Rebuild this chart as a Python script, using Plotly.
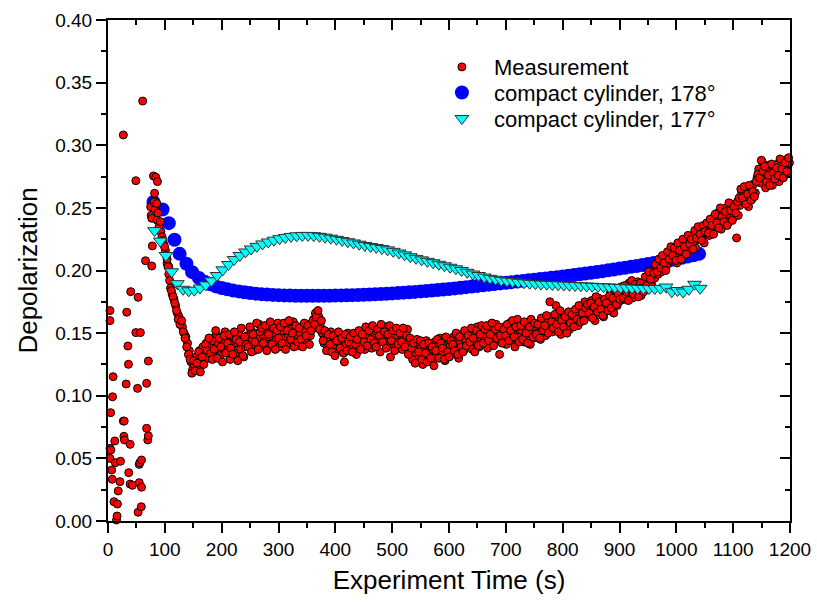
import numpy as np
import plotly.graph_objects as go

# ---------------- data ----------------
# Measurement: sparse start-up readings and the first dense cluster (time s, depolarization)
meas_t_early = [3.5, 3.5, 4.7, 8, 3.5, 5, 3.5, 6.5, 7.5, 9, 12, 10.5, 13, 15, 16, 16.5, 18, 21, 22,
                27, 27, 28.5, 28, 29, 32, 33, 35, 36, 36.5, 39, 39, 40, 43, 49, 49, 52, 53, 53, 55,
                55, 56, 57, 58.6, 59, 59, 61, 66, 68, 68, 70, 71, 71, 77, 78,
                75, 76, 77, 80, 81, 82, 83, 84, 86, 86, 87, 88, 90, 92, 93, 104, 107]
meas_v_early = [0.168, 0.160, 0.0865, 0.0992, 0.058, 0.0567, 0.050, 0.0407, 0.0333, 0.1152, 0.0639,
                0.0154, 0.0466, 0.0008, 0.004, 0.0136, 0.024, 0.0314, 0.0477,
                0.3082, 0.0798, 0.0798, 0.0676, 0.0647, 0.1094, 0.1667, 0.1397, 0.1251, 0.0386,
                0.0612, 0.0295, 0.1831, 0.0285, 0.2717, 0.1504, 0.1059, 0.1786, 0.007, 0.0452,
                0.0306, 0.0466, 0.1504, 0.0114, 0.0487, 0.027, 0.3353, 0.2078, 0.1099, 0.074,
                0.0647, 0.068, 0.1277, 0.2036, 0.2196,
                0.2509, 0.244, 0.2417, 0.2755, 0.2547, 0.2617, 0.2487, 0.2745, 0.2535, 0.2403,
                0.271, 0.246, 0.235, 0.239, 0.231, 0.2057, 0.2030]

# Measurement: regular 3 s sampling starting at t = 95 s
meas_a_start, meas_step = 95, 3
meas_v_a = [
    0.227, 0.221, 0.216, 0.209, 0.197, 0.186, 0.181, 0.177, 0.172, 0.166,
    0.163, 0.158, 0.155, 0.150, 0.147, 0.142, 0.136, 0.127, 0.121, 0.124,
    0.131, 0.122, 0.136, 0.128, 0.139, 0.133, 0.142, 0.130, 0.146, 0.138,
    0.144, 0.135, 0.149, 0.141, 0.132, 0.145, 0.138, 0.151, 0.136, 0.143,
    0.129, 0.140, 0.147, 0.134, 0.142, 0.150, 0.137, 0.145, 0.131, 0.139,
    0.148, 0.141, 0.153, 0.144, 0.136, 0.150, 0.146, 0.157, 0.140, 0.149,
    0.143, 0.152, 0.138, 0.147, 0.155, 0.142, 0.150, 0.145, 0.158, 0.139,
    0.151, 0.146, 0.156, 0.141, 0.149, 0.153, 0.144, 0.159, 0.147, 0.152,
    0.140, 0.150, 0.155, 0.146, 0.152, 0.143, 0.157, 0.148, 0.153, 0.161,
    0.166, 0.158, 0.163, 0.155, 0.150, 0.142, 0.147, 0.138, 0.144, 0.151,
    0.139, 0.146, 0.135, 0.143, 0.148, 0.137, 0.145, 0.127, 0.141, 0.150,
    0.136, 0.144, 0.139, 0.148, 0.133, 0.142, 0.151, 0.140, 0.146, 0.137,
    0.149, 0.143, 0.154, 0.138, 0.147, 0.152, 0.141, 0.146, 0.135, 0.150,
    0.144, 0.155, 0.140, 0.148, 0.131, 0.146, 0.152, 0.139, 0.147, 0.143,
    0.150, 0.137, 0.145, 0.141, 0.153, 0.136, 0.144, 0.129, 0.140, 0.134,
    0.142, 0.131, 0.138, 0.125, 0.136, 0.144, 0.133, 0.140, 0.128, 0.137,
    0.143, 0.132, 0.139, 0.146, 0.134, 0.141, 0.128, 0.137, 0.145, 0.140,
    0.133, 0.147, 0.138, 0.144, 0.130, 0.142, 0.149, 0.136, 0.145, 0.139,
    0.151, 0.141, 0.137, 0.148, 0.143, 0.155, 0.139, 0.146, 0.152, 0.144,
    0.149, 0.138, 0.154, 0.145, 0.150, 0.142, 0.157, 0.147, 0.133, 0.151,
    0.146, 0.155, 0.141, 0.150, 0.158, 0.145, 0.153, 0.139, 0.148, 0.156,
    0.147, 0.152, 0.143, 0.155, 0.149, 0.158, 0.141, 0.151, 0.146, 0.154,
    0.150, 0.157, 0.145, 0.153, 0.161, 0.148, 0.158, 0.155, 0.163, 0.151,
    0.159, 0.172, 0.154, 0.162, 0.149, 0.158, 0.165, 0.156, 0.161, 0.153,
    0.160, 0.167, 0.158, 0.164, 0.156, 0.170, 0.162, 0.168, 0.175, 0.163,
    0.170, 0.165, 0.176, 0.168, 0.160, 0.172, 0.178, 0.166, 0.174, 0.163,
    0.171, 0.177, 0.168, 0.182, 0.174, 0.166, 0.179, 0.172, 0.184, 0.176,
    0.181, 0.177, 0.186, 0.179, 0.190, 0.183, 0.178, 0.187, 0.182, 0.191,
    0.185, 0.180, 0.189, 0.184, 0.192, 0.187, 0.196, 0.190, 0.200, 0.194,
    0.203, 0.197, 0.207, 0.199, 0.205, 0.211, 0.204, 0.214, 0.208, 0.217,
    0.210, 0.215, 0.206, 0.219, 0.212, 0.221, 0.214, 0.224, 0.217, 0.226,
    0.220, 0.228, 0.223, 0.218, 0.231, 0.225, 0.233, 0.227, 0.222, 0.230,
    0.235, 0.228, 0.239, 0.232, 0.243, 0.236, 0.246, 0.240, 0.233, 0.248,
    0.241, 0.250, 0.238, 0.245, 0.253, 0.242, 0.249, 0.226, 0.244, 0.252,
    0.262, 0.255, 0.266, 0.258, 0.251, 0.264, 0.257, 0.269, 0.262, 0.274,
    0.281, 0.270, 0.287, 0.276, 0.266, 0.279, 0.284, 0.272, 0.268, 0.281,
    0.275, 0.285, 0.271, 0.280, 0.277, 0.288, 0.283, 0.279, 0.286,
]
# Measurement: interleaved readings, 3 s sampling starting at t = 96.5 s
meas_b_start = 96.5
meas_v_b = [
    0.224, 0.219, 0.212, 0.203, 0.192, 0.184, 0.179, 0.174, 0.168, 0.161,
    0.157, 0.160, 0.151, 0.146, 0.139, 0.133, 0.129, 0.118, 0.128, 0.120,
    0.126, 0.135, 0.119, 0.131, 0.125, 0.141, 0.136, 0.146, 0.134, 0.129,
    0.137, 0.152, 0.130, 0.146, 0.139, 0.127, 0.148, 0.134, 0.142, 0.149,
    0.138, 0.133, 0.151, 0.145, 0.128, 0.143, 0.154, 0.132, 0.147, 0.141,
    0.139, 0.155, 0.135, 0.149, 0.143, 0.158, 0.137, 0.151, 0.154, 0.142,
    0.156, 0.136, 0.149, 0.159, 0.141, 0.154, 0.137, 0.152, 0.146, 0.155,
    0.142, 0.158, 0.137, 0.152, 0.160, 0.145, 0.150, 0.139, 0.156, 0.143,
    0.154, 0.145, 0.139, 0.158, 0.148, 0.156, 0.141, 0.152, 0.160, 0.157,
    0.163, 0.168, 0.153, 0.160, 0.144, 0.152, 0.136, 0.149, 0.141, 0.135,
    0.148, 0.132, 0.144, 0.151, 0.138, 0.146, 0.134, 0.149, 0.136, 0.143,
    0.147, 0.135, 0.150, 0.141, 0.145, 0.152, 0.137, 0.149, 0.143, 0.155,
    0.140, 0.152, 0.145, 0.156, 0.142, 0.139, 0.153, 0.148, 0.157, 0.143,
    0.151, 0.138, 0.149, 0.156, 0.144, 0.152, 0.136, 0.154, 0.141, 0.150,
    0.143, 0.154, 0.139, 0.148, 0.133, 0.146, 0.138, 0.142, 0.126, 0.145,
    0.135, 0.144, 0.129, 0.141, 0.134, 0.127, 0.142, 0.130, 0.139, 0.124,
    0.136, 0.145, 0.130, 0.142, 0.138, 0.129, 0.147, 0.135, 0.131, 0.144,
    0.141, 0.136, 0.150, 0.133, 0.147, 0.139, 0.135, 0.152, 0.140, 0.148,
    0.143, 0.154, 0.146, 0.135, 0.152, 0.140, 0.149, 0.156, 0.142, 0.153,
    0.156, 0.144, 0.149, 0.158, 0.140, 0.153, 0.146, 0.155, 0.148, 0.142,
    0.153, 0.148, 0.157, 0.144, 0.152, 0.160, 0.147, 0.155, 0.161, 0.143,
    0.156, 0.145, 0.159, 0.150, 0.142, 0.155, 0.161, 0.147, 0.158, 0.149,
    0.157, 0.146, 0.162, 0.152, 0.156, 0.164, 0.150, 0.175, 0.159, 0.154,
    0.165, 0.157, 0.151, 0.168, 0.160, 0.155, 0.163, 0.150, 0.167, 0.158,
    0.165, 0.155, 0.169, 0.161, 0.172, 0.159, 0.166, 0.160, 0.170, 0.173,
    0.166, 0.174, 0.162, 0.171, 0.179, 0.167, 0.175, 0.169, 0.164, 0.177,
    0.174, 0.168, 0.180, 0.170, 0.178, 0.185, 0.173, 0.181, 0.177, 0.187,
    0.178, 0.188, 0.183, 0.176, 0.185, 0.192, 0.181, 0.189, 0.186, 0.179,
    0.190, 0.186, 0.183, 0.195, 0.188, 0.199, 0.193, 0.187, 0.198, 0.205,
    0.199, 0.209, 0.202, 0.212, 0.206, 0.200, 0.215, 0.209, 0.219, 0.212,
    0.218, 0.208, 0.222, 0.216, 0.209, 0.225, 0.219, 0.213, 0.228, 0.221,
    0.225, 0.217, 0.232, 0.226, 0.235, 0.229, 0.224, 0.236, 0.231, 0.238,
    0.230, 0.241, 0.236, 0.229, 0.245, 0.238, 0.234, 0.250, 0.243, 0.239,
    0.247, 0.236, 0.254, 0.248, 0.240, 0.251, 0.246, 0.255, 0.258, 0.265,
    0.258, 0.267, 0.253, 0.261, 0.268, 0.256, 0.263, 0.259, 0.271, 0.277,
    0.274, 0.288, 0.279, 0.283, 0.271, 0.276, 0.268, 0.285, 0.278, 0.273,
    0.282, 0.276, 0.289, 0.281, 0.274, 0.286, 0.279, 0.290,
]

# Model: compact cylinder, 178 deg
cyl178_t = [80, 96, 107, 117, 126, 138, 148,
            160, 170, 180, 190, 200, 210, 220, 230, 240, 250, 260, 270, 280, 290, 300,
            310, 320, 330, 340, 350, 360, 370, 380, 390, 400, 410, 420, 430, 440, 450,
            460, 470, 480, 490, 500, 510, 520, 530, 540, 550, 560, 570, 580, 590, 600,
            610, 620, 630, 640, 650, 660, 670, 680, 690, 700, 710, 720, 730, 740, 750,
            760, 770, 780, 790, 800, 810, 820, 830, 840, 850, 860, 870, 880, 890, 900,
            910, 920, 930, 940, 950, 960, 970, 980, 990, 1000, 1010, 1020, 1030, 1040]
cyl178_v = [0.2547, 0.2487, 0.2378, 0.2245, 0.2133, 0.2054, 0.1987,
            0.1940, 0.1910, 0.1890, 0.1873, 0.1860, 0.1850, 0.1840, 0.1833, 0.1826, 0.1820,
            0.1815, 0.1811, 0.1808, 0.1805, 0.1803,
            0.1801, 0.1800, 0.1799, 0.1798, 0.1798, 0.1798, 0.1798, 0.1798, 0.1799, 0.1800,
            0.1801, 0.1802, 0.1803, 0.1804, 0.1806,
            0.1808, 0.1810, 0.1812, 0.1814, 0.1817, 0.1820, 0.1823, 0.1826, 0.1829, 0.1833,
            0.1836, 0.1840, 0.1844, 0.1848, 0.1852,
            0.1857, 0.1862, 0.1867, 0.1872, 0.1877, 0.1882, 0.1887, 0.1892, 0.1897, 0.1902,
            0.1907, 0.1912, 0.1917, 0.1922, 0.1927,
            0.1932, 0.1937, 0.1942, 0.1947, 0.1953, 0.1958, 0.1964, 0.1970, 0.1976, 0.1982,
            0.1988, 0.1994, 0.2001, 0.2008, 0.2015,
            0.2022, 0.2029, 0.2036, 0.2043, 0.2051, 0.2059, 0.2067, 0.2075, 0.2084, 0.2093,
            0.2102, 0.2112, 0.2122, 0.2133]

# Model: compact cylinder, 177 deg (10 s spacing from 82 s)
cyl177_start, cyl177_step = 82, 10
cyl177_v = [0.2318, 0.2235, 0.2120, 0.1990, 0.1895, 0.1850, 0.1838, 0.1843, 0.1860, 0.1885,
            0.1918, 0.1960, 0.2005, 0.2048, 0.2088, 0.2120, 0.2148, 0.2172, 0.2193, 0.2212,
            0.2228, 0.2242, 0.2254, 0.2264, 0.2272, 0.2277, 0.2280, 0.2280, 0.2278, 0.2273,
            0.2266, 0.2258, 0.2249, 0.2240, 0.2230, 0.2220, 0.2210, 0.2200, 0.2192, 0.2184,
            0.2175, 0.2165, 0.2153, 0.2140, 0.2125, 0.2110, 0.2097, 0.2085, 0.2073, 0.2062,
            0.2050, 0.2038, 0.2026, 0.2014, 0.2000, 0.1986, 0.1972, 0.1960, 0.1948, 0.1938,
            0.1930, 0.1922, 0.1916, 0.1911, 0.1906, 0.1902, 0.1898, 0.1895, 0.1892, 0.1890,
            0.1888, 0.1886, 0.1884, 0.1882, 0.1880, 0.1878, 0.1876, 0.1874, 0.1872, 0.1870,
            0.1868, 0.1866, 0.1864, 0.1862, 0.1860, 0.1858, 0.1857, 0.1856, 0.1856, 0.1858,
            0.1868, 0.1830, 0.1840, 0.1828, 0.1850, 0.1890, 0.1858]

x_ticks = list(range(0, 1201, 100))
y_ticks = [0.00, 0.05, 0.10, 0.15, 0.20, 0.25, 0.30, 0.35, 0.40]
y_tick_text = [f"{v:.2f}" for v in y_ticks]

# ---------------- assemble ----------------
meas_t = (list(meas_t_early)
          + list(meas_a_start + meas_step * np.arange(len(meas_v_a)))
          + list(meas_b_start + meas_step * np.arange(len(meas_v_b))))
meas_all = list(meas_v_early) + list(meas_v_a) + list(meas_v_b)
cyl177_t = cyl177_start + cyl177_step * np.arange(len(cyl177_v))

FONT = "Liberation Sans, Arial, sans-serif"

fig = go.Figure()

fig.add_trace(go.Scatter(
    x=cyl178_t, y=cyl178_v, mode="markers", name="compact cylinder, 178°",
    marker=dict(symbol="circle", size=14, color="#0000FF", line=dict(width=0)),
    legend="legend2", cliponaxis=False,
))
fig.add_trace(go.Scatter(
    x=meas_t, y=meas_all, mode="markers", name="Measurement",
    marker=dict(symbol="circle", size=8, color="#FF0000", line=dict(width=1, color="#000000")),
    legend="legend", cliponaxis=False,
))
fig.add_trace(go.Scatter(
    x=cyl177_t, y=cyl177_v, mode="markers", name="compact cylinder, 177°",
    marker=dict(symbol="triangle-down", size=12, color="#00FFFF",
                line=dict(width=1, color="#303030")),
    legend="legend3", cliponaxis=False,
))
# empty trace that carries the mirrored top/right axes
fig.add_trace(go.Scatter(x=[], y=[], xaxis="x2", yaxis="y2", showlegend=False,
                         hoverinfo="skip"))

axis_common = dict(
    showgrid=False, zeroline=False, showline=True, linecolor="black", linewidth=2,
    tickcolor="black", tickwidth=2, automargin=False,
)


def legend_box(ypos):
    return dict(
        x=0.472, y=ypos, xanchor="left", yanchor="middle",
        bgcolor="rgba(0,0,0,0)", borderwidth=0,
        font=dict(family=FONT, size=22, color="black"),
        itemsizing="trace", itemwidth=54,
    )


fig.update_layout(
    width=817, height=603,
    margin=dict(l=108, r=27, t=20, b=82),
    paper_bgcolor="white", plot_bgcolor="white",
    font=dict(family=FONT, color="black", size=19),
    showlegend=True,
    legend=legend_box(0.906),
    legend2=legend_box(0.855),
    legend3=legend_box(0.803),
    xaxis=dict(
        range=[0, 1200], tickmode="array", tickvals=x_ticks,
        ticks="outside", ticklen=10,
        minor=dict(ticks="outside", ticklen=5, dtick=50, tickwidth=2, tickcolor="black"),
        tickfont=dict(size=19),
        title=dict(text="Experiment Time (s)", font=dict(size=26), standoff=12),
        **axis_common,
    ),
    yaxis=dict(
        range=[0, 0.40], tickmode="array", tickvals=y_ticks, ticktext=y_tick_text,
        ticks="outside", ticklen=10,
        minor=dict(ticks="outside", ticklen=5, dtick=0.025, tickwidth=2, tickcolor="black"),
        tickfont=dict(size=19),
        title=dict(text="Depolarization", font=dict(size=26), standoff=10),
        **axis_common,
    ),
    xaxis2=dict(
        overlaying="x", side="top", anchor="y", range=[0, 1200],
        tickmode="array", tickvals=x_ticks, showticklabels=False,
        ticks="inside", ticklen=10,
        minor=dict(ticks="inside", ticklen=5, dtick=50, tickwidth=2, tickcolor="black"),
        **axis_common,
    ),
    yaxis2=dict(
        overlaying="y", side="right", anchor="x", range=[0, 0.40],
        tickmode="array", tickvals=y_ticks, showticklabels=False,
        ticks="inside", ticklen=10,
        minor=dict(ticks="inside", ticklen=5, dtick=0.025, tickwidth=2, tickcolor="black"),
        **axis_common,
    ),
)

fig.write_html("out.html")
